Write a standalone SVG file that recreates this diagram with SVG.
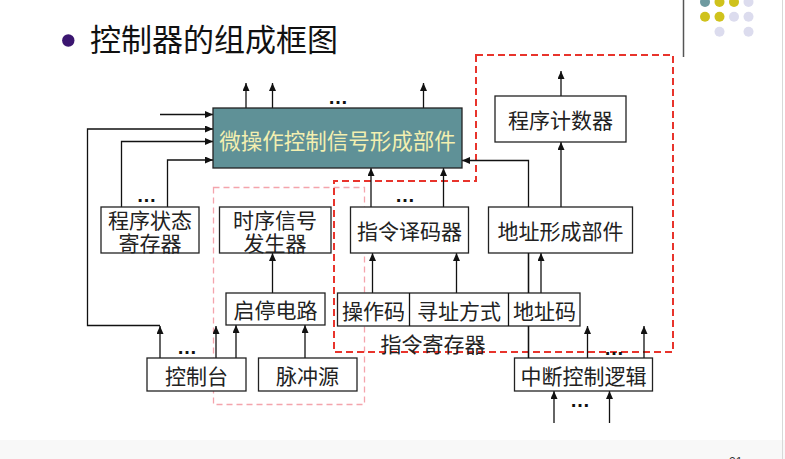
<svg xmlns="http://www.w3.org/2000/svg" width="785" height="459" viewBox="0 0 785 459">
<defs>
<marker id="ah" markerUnits="userSpaceOnUse" markerWidth="9" markerHeight="8" refX="8" refY="3.5" orient="auto">
<path d="M0,0 L8,3.5 L0,7 z" fill="#111"/>
</marker>
<style>
.box{fill:#fff;stroke:#222;stroke-width:1.3}
.ln{fill:none;stroke:#111;stroke-width:1.3}
.ar{fill:none;stroke:#111;stroke-width:1.3;marker-end:url(#ah)}
.t{font-family:"Noto Sans CJK SC","Liberation Sans",sans-serif;font-size:21px;fill:#222;text-anchor:middle;dominant-baseline:central}
.dots{font-family:"Liberation Sans",sans-serif;font-size:20px;font-weight:bold;fill:#111;text-anchor:middle}
</style>
</defs>
<rect x="0" y="0" width="785" height="459" fill="#fff"/>
<rect x="0" y="440" width="785" height="19" fill="#f8f8f8"/>
<line x1="782.5" y1="0" x2="782.5" y2="459" stroke="#d8d8d8" stroke-width="1"/>
<g id="deco">
<line x1="683.5" y1="0" x2="683.5" y2="57" stroke="#555" stroke-width="1.5"/>
<circle cx="705" cy="2" r="5" fill="#6e9aa0"/>
<circle cx="719.5" cy="2" r="5" fill="#cfc21c"/>
<circle cx="734" cy="2" r="5" fill="#cfc21c"/>
<circle cx="748.5" cy="2" r="5" fill="#dcdcee"/>
<circle cx="705" cy="16.7" r="5" fill="#cfc21c"/>
<circle cx="719.5" cy="16.7" r="5" fill="#cfc21c"/>
<circle cx="734" cy="16.7" r="5" fill="#dcdcee"/>
<circle cx="748.5" cy="16.7" r="5" fill="#dcdcee"/>
<circle cx="719.5" cy="31.7" r="5" fill="#dcdcee"/>
<circle cx="748.5" cy="31.7" r="5" fill="#dcdcee"/>
</g>
<g id="title">
<circle cx="68.3" cy="40.5" r="6.2" fill="#3b1670"/>
<text x="90" y="37" font-family="'Noto Sans CJK SC','Liberation Sans',sans-serif" font-size="31" fill="#111" dominant-baseline="central">控制器的组成框图</text>
</g>
<g id="regions">
<rect x="213.5" y="187.5" width="151" height="217" fill="none" stroke="#f4a4ac" stroke-width="1.3" stroke-dasharray="6,4"/>
<path d="M476,55 H673 V352 H334 V181 H476 Z" fill="none" stroke="#e8342c" stroke-width="2" stroke-dasharray="7,4"/>
</g>
<g id="connectors">
<line class="ar" x1="246" y1="108" x2="246" y2="83"/>
<line class="ar" x1="272.5" y1="108" x2="272.5" y2="83"/>
<line class="ar" x1="423.5" y1="108" x2="423.5" y2="83"/>
<line class="ar" x1="160" y1="114.5" x2="213" y2="114.5"/>
<polyline class="ar" points="160,325.5 87.5,325.5 87.5,129 213,129"/>
<polyline class="ar" points="121.5,207 121.5,141.5 213,141.5"/>
<polyline class="ar" points="167.5,207 167.5,160 213,160"/>
<line class="ar" x1="371" y1="207" x2="371" y2="168"/>
<line class="ar" x1="443.5" y1="207" x2="443.5" y2="168"/>
<polyline class="ar" points="528.5,358 528.5,160.5 462,160.5"/>
<line class="ar" x1="561" y1="96" x2="561" y2="71"/>
<line class="ar" x1="561" y1="207" x2="561" y2="142"/>
<line class="ar" x1="272.5" y1="293" x2="272.5" y2="253"/>
<line class="ar" x1="160" y1="358" x2="160" y2="326"/>
<line class="ar" x1="216" y1="358" x2="216" y2="326"/>
<line class="ar" x1="236" y1="358" x2="236" y2="325"/>
<line class="ar" x1="305" y1="358" x2="305" y2="325"/>
<line class="ar" x1="372.5" y1="293" x2="372.5" y2="253"/>
<line class="ar" x1="456.5" y1="293" x2="456.5" y2="253"/>
<line class="ar" x1="541" y1="293" x2="541" y2="253"/>
<line class="ar" x1="587.5" y1="358" x2="587.5" y2="326"/>
<line class="ar" x1="644" y1="358" x2="644" y2="326"/>
<line class="ar" x1="554" y1="423" x2="554" y2="391"/>
<line class="ar" x1="609.5" y1="423" x2="609.5" y2="391"/>
<text class="dots" x="338" y="104">…</text>
<text class="dots" x="146.5" y="202">…</text>
<text class="dots" x="405" y="202">…</text>
<text class="dots" x="187" y="354">…</text>
<text class="dots" x="614" y="355">…</text>
<text class="dots" x="580" y="407">…</text>
</g>
<g id="main">
<rect x="213" y="108" width="249" height="60" fill="#5f9197" stroke="#222" stroke-width="1.3"/>
<text class="t" x="337.5" y="139" style="fill:#f3efb0;font-size:21.5px">微操作控制信号形成部件</text>
</g>
<g id="psr">
<rect class="box" x="101" y="207" width="98" height="46"/>
<text class="t" x="150" y="219"><tspan x="150" y="219">程序状态</tspan><tspan x="150" y="241.5">寄存器</tspan></text>
</g>
<g id="timing">
<rect class="box" x="219.5" y="207" width="111.5" height="46"/>
<text class="t" x="275" y="219"><tspan x="275" y="219">时序信号</tspan><tspan x="275" y="241.5">发生器</tspan></text>
</g>
<g id="decoder">
<rect class="box" x="350.5" y="207" width="118" height="46"/>
<text class="t" x="409.5" y="230">指令译码器</text>
</g>
<g id="addrgen">
<rect class="box" x="488.5" y="207" width="144" height="46"/>
<text class="t" x="560.5" y="230">地址形成部件</text>
</g>
<g id="pc">
<rect class="box" x="495" y="96" width="131" height="46"/>
<text class="t" x="560.5" y="119">程序计数器</text>
</g>
<g id="startstop">
<rect class="box" x="226" y="293" width="99" height="32"/>
<text class="t" x="275.5" y="309">启停电路</text>
</g>
<g id="ir">
<rect class="box" x="337.5" y="293" width="242.5" height="33"/>
<line class="ln" x1="409.5" y1="293" x2="409.5" y2="326"/>
<line class="ln" x1="508.5" y1="293" x2="508.5" y2="326"/>
<text class="t" x="373.5" y="309.5">操作码</text>
<text class="t" x="459" y="309.5">寻址方式</text>
<text class="t" x="544.5" y="309.5">地址码</text>
<text class="t" x="433" y="343">指令寄存器</text>
</g>
<g id="console">
<rect class="box" x="147" y="358" width="99" height="33"/>
<text class="t" x="196.5" y="374.5">控制台</text>
</g>
<g id="pulse">
<rect class="box" x="258.5" y="358" width="98.5" height="33"/>
<text class="t" x="307.5" y="374.5">脉冲源</text>
</g>
<g id="interrupt">
<rect class="box" x="514.5" y="358" width="138" height="33"/>
<text class="t" x="583.5" y="374.5">中断控制逻辑</text>
</g>
<line class="ln" x1="528.5" y1="253" x2="528.5" y2="293"/>
<line class="ln" x1="528.5" y1="326" x2="528.5" y2="358"/>
<text x="729" y="466" font-family="'Liberation Sans',sans-serif" font-size="12" fill="#333">21</text>
</svg>
